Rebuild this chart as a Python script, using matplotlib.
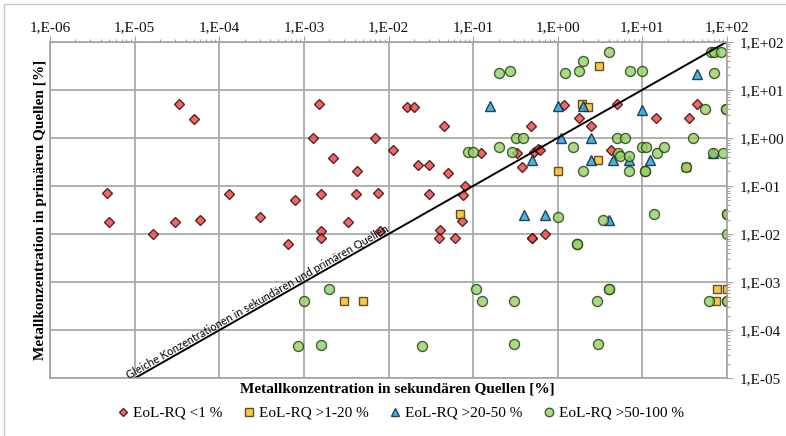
import numpy as np
import matplotlib
matplotlib.use("Agg")
import matplotlib.pyplot as plt
from matplotlib.ticker import FixedLocator, FuncFormatter, LogLocator, NullFormatter
from matplotlib.patches import Rectangle

# ------------------
# Data (% metal content)
# ------------------
red_x = [4.7e-6, 5.0e-6, 1.65e-5, 3.0e-5, 5.9e-5, 3.35e-5, 5.0e-5, 1.3e-4, 3.0e-4, 7.9e-4,
         6.5e-4, 1.5e-3, 1.28e-3, 2.2e-3, 4.3e-3, 1.6e-3, 4.1e-3, 7.5e-3, 7.0e-3, 0.0112,
         1.6e-3, 1.6e-3, 3.3e-3, 7.9e-3, 0.0164, 0.0202, 0.045, 0.0224, 0.030, 0.050,
         0.030, 0.080, 0.076, 0.123, 0.48, 0.38, 0.33, 0.52, 0.58, 0.62,
         1.2, 1.8, 2.5, 5.0, 4.3, 14.6, 36, 44.5, 0.041, 0.040,
         0.061, 0.074, 0.50, 0.50, 0.70]
red_y = [0.071, 0.018, 0.0099, 0.018, 0.020, 5.0, 2.5, 0.069, 0.023, 0.050,
         0.0062, 5.0, 1.0, 0.39, 0.20, 0.069, 0.069, 0.072, 1.0, 0.55,
         0.0118, 0.0083, 0.018, 0.0118, 4.4, 4.4, 1.75, 0.27, 0.27, 0.185,
         0.069, 0.10, 0.066, 0.49, 1.75, 0.25, 0.49, 0.52, 0.58, 0.55,
         4.8, 2.55, 1.77, 5.0, 0.56, 2.55, 2.55, 5.0, 0.0122, 0.0084,
         0.0083, 0.019, 0.0083, 0.0083, 0.010]

yel_x = [3.0e-3, 5.0e-3, 0.070, 3.1, 1.93, 2.3, 1.0, 3.0, 33, 77, 100, 75]
yel_y = [4e-4, 4e-4, 0.026, 31, 5.1, 4.45, 0.2, 0.34, 0.25, 7.3e-4, 7.3e-4, 4e-4]

blu_x = [0.159, 1.0, 2.0, 10, 44.5, 1.1, 2.44, 0.50, 2.48, 4.5, 7.0, 12.3, 69, 0.40, 0.70, 4.05]
blu_y = [4.6, 4.6, 4.6, 3.8, 21, 1.0, 1.0, 0.35, 0.35, 0.35, 0.35, 0.35, 0.48, 0.025, 0.025, 0.0196]

grn_x = [0.20, 0.27, 1.22, 1.79, 1.98, 4.0, 7.2, 10, 64, 70,
         85, 71, 55, 97, 97, 0.32, 0.39, 0.20, 0.0865, 0.10,
         0.29, 1.53, 5.0, 6.3, 5.2, 5.5, 7.0, 2.0, 7.0, 10,
         11, 10.8, 10.8, 15, 18, 39.5, 33, 69, 89, 1.02,
         3.47, 13.9, 100, 100, 100, 1.71, 1.71, 0.108, 0.129, 0.30,
         2.9, 4.0, 4.0, 62, 100, 100, 0.0247, 0.30, 2.95, 2.0e-3,
         1.0e-3, 8.5e-4, 1.6e-3]
grn_y = [22.7, 25, 22.7, 25, 40, 62, 25, 25, 62, 62,
         62, 22.7, 4.0, 4.0, 4.0, 1.0, 1.0, 0.64, 0.50, 0.50,
         0.50, 0.64, 1.0, 1.0, 0.48, 0.42, 0.42, 0.20, 0.20, 0.64,
         0.64, 0.20, 0.20, 0.485, 0.64, 1.0, 0.25, 0.485, 0.485, 0.023,
         0.0196, 0.026, 0.026, 0.026, 0.010, 0.0061, 0.0061, 7.2e-4, 4e-4, 4e-4,
         4e-4, 7.2e-4, 7.2e-4, 4e-4, 4e-4, 4e-4, 4.6e-5, 5.1e-5, 5.1e-5, 7.3e-4,
         4e-4, 4.6e-5, 4.9e-5]

labels = ["EoL-RQ <1 %", "EoL-RQ >1-20 %", "EoL-RQ >20-50 %", "EoL-RQ >50-100 %"]
x_exp = list(range(-6, 3))
y_exp = list(range(-5, 3))

# ------------------
# Figure
# ------------------
plt.rcParams['font.family'] = ['Liberation Serif', 'DejaVu Serif']
grid_col = "#a3a3a3"

fig = plt.figure(figsize=(7.86, 4.36), dpi=100)
fig.patches.append(Rectangle((4 / 786, -0.1), 1.2, 1 - 4 / 436 + 0.1, transform=fig.transFigure,
                             fill=False, edgecolor="#c8c8c8", lw=1.0))
ax = fig.add_axes([50 / 786, 1 - 378.3 / 436, 677 / 786, 336.6 / 436])
ax.set_xscale("log")
ax.set_yscale("log")
ax.set_xlim(1e-6, 1e2)
ax.set_ylim(1e-5, 1e2)

ax.plot(red_x, red_y, ls="none", marker="D", ms=5.2, mfc="#f04e4e", mec="#3a1010", mew=1.0,
        alpha=0.85, label=labels[0])
ax.plot(yel_x, yel_y, ls="none", marker="s", ms=6.3, mfc="#f8be2c", mec="#4a3410", mew=1.0,
        alpha=0.85, label=labels[1])
ax.plot(blu_x, blu_y, ls="none", marker="^", ms=7.2, mfc="#2aa8de", mec="#0f2840", mew=1.0,
        alpha=0.85, label=labels[2])
ax.plot(grn_x, grn_y, ls="none", marker="o", ms=7.2, mfc="#98d064", mec="#213a14", mew=1.0,
        alpha=0.8, label=labels[3])

# diagonal: same concentration
ax.plot([1e-5, 1e2], [1e-5, 1e2], color="black", lw=1.4)
p0 = ax.transData.transform((1e-5, 1e-5))
p1 = ax.transData.transform((1e2, 1e2))
ang = np.degrees(np.arctan2(p1[1] - p0[1], p1[0] - p0[0]))
ax.text(8.8e-6, 8.8e-6, "Gleiche Konzentrationen in sekundären und primären Quellen",
        rotation=ang, rotation_mode="anchor", ha="left", va="bottom",
        fontsize=7.9, family=["Lato", "DejaVu Sans"], color="black")

# axes styling
ax.grid(True, which="major", color=grid_col, lw=1.2)
for s in ax.spines.values():
    s.set_color(grid_col)
    s.set_linewidth(1.2)

ax.xaxis.set_major_locator(FixedLocator([10.0 ** e for e in x_exp]))
ax.yaxis.set_major_locator(FixedLocator([10.0 ** e for e in y_exp]))
ax.xaxis.set_minor_locator(LogLocator(base=10, subs=np.arange(2, 10), numticks=20))
ax.yaxis.set_minor_locator(LogLocator(base=10, subs=np.arange(2, 10), numticks=20))
fmt = FuncFormatter(lambda v, p: "1,E%+03d" % int(round(np.log10(v))))
ax.xaxis.set_major_formatter(fmt)
ax.yaxis.set_major_formatter(fmt)
ax.xaxis.set_minor_formatter(NullFormatter())
ax.yaxis.set_minor_formatter(NullFormatter())

ax.tick_params(which="both", top=True, right=True, bottom=False, left=False,
               labeltop=True, labelright=True, labelbottom=False, labelleft=False,
               direction="out", color=grid_col, labelsize=11, labelcolor="#111111")
ax.tick_params(axis="x", which="major", length=4, pad=1.5)
ax.tick_params(axis="y", which="major", length=4, pad=5)
ax.tick_params(which="minor", length=2.5, width=0.8)

ax.set_xlabel("Metallkonzentration in sekundären Quellen [%]", fontsize=11, fontweight="bold")
ax.xaxis.set_label_coords(0.513, -0.012)
ax.xaxis.label.set_va("top")
ax.set_ylabel("Metallkonzentration in primären Quellen [%]", fontsize=11, fontweight="bold")
ax.yaxis.set_label_position("left")
ax.yaxis.set_label_coords(-0.004, 0.5)

fig.legend(loc="center", bbox_to_anchor=(0.509, 1 - 413 / 436), ncol=4, frameon=False,
           fontsize=11, handlelength=0.9, handletextpad=0.2, columnspacing=1.3,
           markerscale=0.85)

fig.savefig("out.png", dpi=100)
